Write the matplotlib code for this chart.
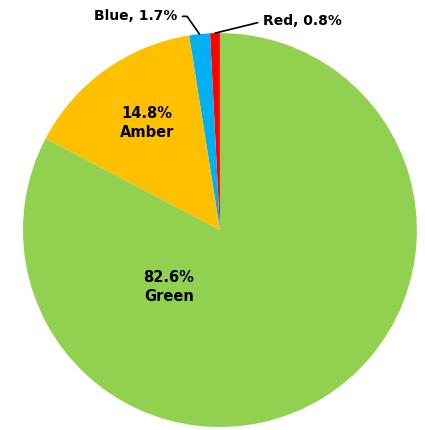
import numpy as np
import matplotlib
matplotlib.use('Agg')
import matplotlib.pyplot as plt

# slice data (drawn counter-clockwise from the top)
labels = ['Red', 'Blue', 'Amber', 'Green']
values = [0.8, 1.7, 14.8, 82.6]
colors = ['#FF0000', '#00B0F0', '#FFC000', '#92D050']

plt.rcParams['font.family'] = ['DejaVu Sans']

fig = plt.figure(figsize=(4.25, 4.3), dpi=100)
ax = fig.add_axes([0.054, 0.007, 0.927, 0.916])

wedges, _ = ax.pie(values, colors=colors, startangle=90, counterclock=True,
                   radius=1, wedgeprops=dict(linewidth=0))
ax.set_xlim(-1, 1)
ax.set_ylim(-1, 1)
ax.set_aspect('equal')
ax.axis('off')

fs = 10.5
# inside labels
ax.text(-0.37, 0.545, '%.1f%%\n%s' % (values[2], labels[2]), ha='center', va='center',
        fontsize=fs, fontweight='bold', linespacing=1.3)
ax.text(-0.26, -0.29, '%.1f%%\n%s' % (values[3], labels[3]), ha='center', va='center',
        fontsize=fs, fontweight='bold', linespacing=1.3)

# outside labels with leader lines
def edge_point(w, r=1.0):
    a = np.deg2rad((w.theta1 + w.theta2) / 2)
    return r * np.cos(a), r * np.sin(a)

bx, by = edge_point(wedges[1])
ax.annotate('%s, %.1f%%' % (labels[1], values[1]), xy=(bx, by), xytext=(-0.43, 1.085),
            ha='center', va='center', fontsize=10, fontweight='bold',
            arrowprops=dict(arrowstyle='-', color='black', lw=1.2, relpos=(1, 0.5),
                            connectionstyle='angle,angleA=0,angleB=125,rad=0',
                            shrinkA=2, shrinkB=0),
            annotation_clip=False)

rx, ry = edge_point(wedges[0])
ax.annotate('%s, %.1f%%' % (labels[0], values[0]), xy=(rx, ry), xytext=(0.42, 1.06),
            ha='center', va='center', fontsize=10, fontweight='bold',
            arrowprops=dict(arrowstyle='-', color='black', lw=1.2, relpos=(0, 0.5),
                            shrinkA=2, shrinkB=0),
            annotation_clip=False)

fig.savefig('out.png', dpi=100)
